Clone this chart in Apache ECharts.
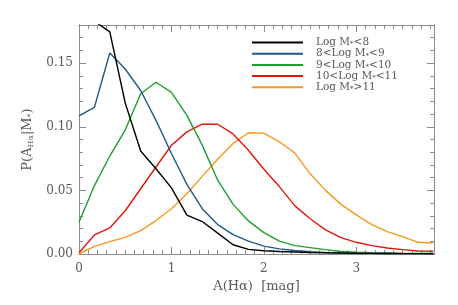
<!DOCTYPE html>
<html><head><meta charset="utf-8">
<script src="https://cdn.jsdelivr.net/npm/echarts@6/dist/echarts.min.js"></script>
<style>html,body{margin:0;padding:0;background:#fff}#c{width:458px;height:305px}</style>
</head><body><div id="c"></div>
<script>
const xValues = [0, 0.167, 0.333, 0.5, 0.667, 0.833, 1, 1.167, 1.333, 1.5, 1.667, 1.833, 2, 2.167, 2.333, 2.5, 2.667, 2.833, 3, 3.167, 3.333, 3.5, 3.667, 3.833];
const seriesNames = ['Log M*<8', '8<Log M*<9', '9<Log M*<10', '10<Log M*<11', 'Log M*>11'];
const lt8 = [0.21, 0.183, 0.1746, 0.1187, 0.081, 0.067, 0.052, 0.0305, 0.0255, 0.0164, 0.0073, 0.0036, 0.0026, 0.002, 0.0016, 0.0012, 0.001, 0.0008, 0.0006, 0.0005, 0.0004, 0.0003, 0.0003, 0.0002];
const m8to9 = [0.1085, 0.1153, 0.158, 0.1454, 0.1285, 0.105, 0.079, 0.0547, 0.0356, 0.0231, 0.0152, 0.0101, 0.0062, 0.004, 0.0028, 0.0018, 0.0012, 0.0009, 0.0007, 0.0005, 0.0004, 0.0003, 0.0003, 0.0002];
const m9to10 = [0.025, 0.0538, 0.077, 0.0974, 0.126, 0.135, 0.127, 0.109, 0.0856, 0.058, 0.039, 0.026, 0.0168, 0.0101, 0.0066, 0.005, 0.0034, 0.002, 0.0014, 0.001, 0.0008, 0.0006, 0.0005, 0.0005];
const m10to11 = [0.001, 0.015, 0.0205, 0.034, 0.0513, 0.0684, 0.0855, 0.096, 0.102, 0.102, 0.0944, 0.0816, 0.0666, 0.053, 0.038, 0.0277, 0.019, 0.0129, 0.0092, 0.0066, 0.0047, 0.0034, 0.0024, 0.0022];
const gt11 = [0.0, 0.006, 0.0097, 0.0131, 0.0184, 0.0263, 0.0356, 0.0474, 0.061, 0.0745, 0.0869, 0.0953, 0.095, 0.0882, 0.0795, 0.063, 0.050, 0.039, 0.0307, 0.0231, 0.0176, 0.0137, 0.0092, 0.0087];
const colors = ['#000000', '#1d5a88', '#1ea02c', '#e3160e', '#f39a1e'];
const allSeries = [lt8, m8to9, m9to10, m10to11, gt11];

const FONT = 'DejaVu Serif';
const AX = '#8c8c8c';
const TXT = '#5a5a5a';
const XMIN = 0, XMAX = 3.84, YMIN = 0, YMAX = 0.18;

function xAx(pos, interval, len, labels, extra) {
  return Object.assign({
    type: 'value', position: pos, min: XMIN, max: XMAX, interval: interval,
    axisLine: { show: true, onZero: false, lineStyle: { color: AX, width: 1 } },
    axisTick: { show: true, inside: true, length: len, lineStyle: { color: AX } },
    splitLine: { show: false },
    axisLabel: labels ? {
      show: true, color: TXT, fontFamily: FONT, fontSize: 12, margin: 9,
      formatter: v => (Math.abs(v - Math.round(v)) < 1e-6 ? String(Math.round(v)) : '')
    } : { show: false }
  }, extra || {});
}
function yAx(pos, interval, len, labels, extra) {
  return Object.assign({
    type: 'value', position: pos, min: YMIN, max: YMAX, interval: interval,
    axisLine: { show: true, onZero: false, lineStyle: { color: AX, width: 1 } },
    axisTick: { show: true, inside: true, length: len, lineStyle: { color: AX } },
    splitLine: { show: false },
    axisLabel: labels ? {
      show: true, color: TXT, fontFamily: FONT, fontSize: 12, margin: 6,
      formatter: v => { const r = v / 0.05; return Math.abs(r - Math.round(r)) < 1e-6 ? v.toFixed(2) : ''; }
    } : { show: false }
  }, extra || {});
}

const chart = echarts.init(document.getElementById('c'), null, { renderer: 'canvas' });
chart.setOption({
  animation: false,
  backgroundColor: '#fff',
  grid: { left: 79, right: 24, top: 25, bottom: 51, containLabel: false },
  xAxis: [
    xAx('bottom', 1, 7, true, {
      name: 'A(Hα)  [mag]', nameLocation: 'middle', nameGap: 26,
      nameTextStyle: { color: TXT, fontFamily: FONT, fontSize: 13 }
    }),
    xAx('bottom', 0.1, 4, false),
    xAx('top', 1, 7, false),
    xAx('top', 0.1, 4, false)
  ],
  yAxis: [
    yAx('left', 0.05, 7, true, {
      name: 'P(A{sub|Hα}|M{sub|*})', nameLocation: 'middle', nameGap: 44,
      nameTextStyle: {
        color: TXT, fontFamily: FONT, fontSize: 13,
        rich: { sub: { fontSize: 8, fontFamily: FONT, color: TXT, verticalAlign: 'bottom', padding: [6, 0, 0, 0] } }
      }
    }),
    yAx('left', 0.01, 4, false),
    yAx('right', 0.05, 7, false),
    yAx('right', 0.01, 4, false)
  ],
  legend: {
    show: true, orient: 'vertical', left: 252, top: 37, padding: 0,
    icon: 'rect', itemWidth: 51, itemHeight: 2, itemGap: 0.2,
    data: seriesNames,
    formatter: n => n.replace('M*', 'M{s|*}'),
    textStyle: {
      color: TXT, fontFamily: FONT, fontSize: 10.5, lineHeight: 11, padding: [0, 0, 0, 8],
      rich: { s: { fontSize: 7, fontFamily: FONT, color: TXT, verticalAlign: 'bottom', padding: [4, 0, 0, 0] } }
    }
  },
  series: allSeries.map((vals, i) => ({
    name: seriesNames[i], type: 'line', xAxisIndex: 0, yAxisIndex: 0,
    data: xValues.map((x, j) => [x, vals[j]]),
    symbol: 'none', clip: true, z: 10 - i,
    lineStyle: { color: colors[i], width: 1.4 },
    itemStyle: { color: colors[i] }
  }))
});
</script></body></html>
